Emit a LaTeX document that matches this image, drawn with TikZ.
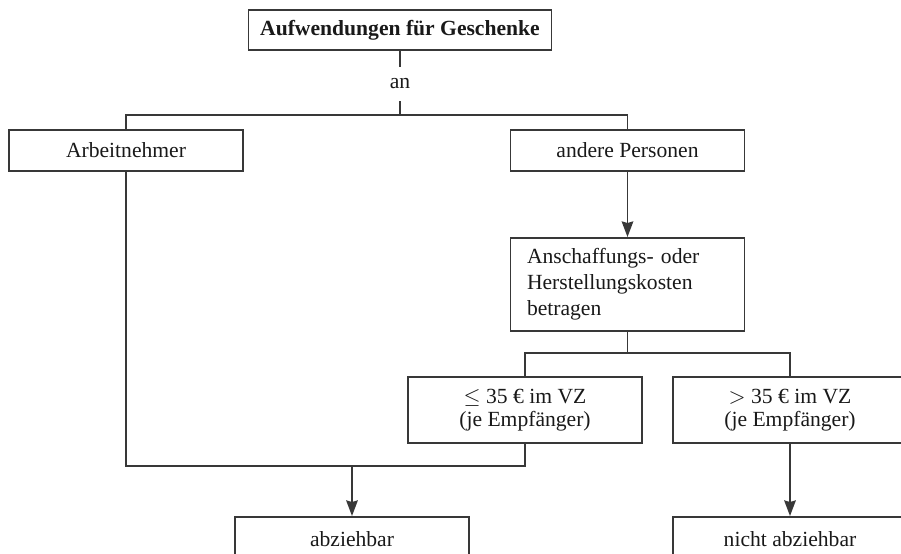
\documentclass[tikz,border=0pt]{standalone}
\usepackage{fontspec}
\setmainfont{Liberation Serif}
\usepackage{tikz}
\usetikzlibrary{arrows.meta, positioning}

\begin{document}
\begin{tikzpicture}[x=0.5pt, y=-0.5pt, thick, >={Stealth[length=7.8pt, width=5.8pt, inset=0.8pt]}]

		% Define block styles
		\tikzstyle{box} = [rectangle, draw=black!78, line width=0.85pt, text=black!90, minimum width=117pt, minimum height=20.5pt, text centered, font=\fontsize{10.8}{13}\selectfont]
		\tikzstyle{twoline} = [box, minimum height=33pt, align=center, font=\fontsize{10.8}{11.5}\selectfont]
		\tikzstyle{link} = [draw=black!78, line width=0.85pt]

		\useasboundingbox (0,0) rectangle (901,553);
		\clip (0,0) rectangle (901,553);

		% Nodes
		\node[box, minimum width=151.5pt, minimum height=20pt, font=\fontsize{10.8}{13}\selectfont\bfseries] (top) at (400,30) {Aufwendungen für Geschenke};
		\node[inner sep=5.5pt, text=black!90, font=\fontsize{10.8}{13}\selectfont] (an) at (400,84) {an};
		\coordinate (split1) at (400,115);
		\node[box] (arbeit) at (126,150.5) {Arbeitnehmer};
		\node[box] (andere) at (627.5,150.5) {andere Personen};
		\node[box, anchor=north, text width=100.5pt, inner xsep=8pt, inner ysep=5.3pt, align=left] (kosten) at (627.5,237) {Anschaffungs- oder\\Herstellungskosten\\betragen};
		\coordinate (split2) at (627.5,353);
		\node[twoline] (klein) at (525,410) {$\leq$ 35 € im VZ\\(je Empfänger)};
		\node[twoline] (gross) at (790,410) {$>$ 35 € im VZ\\(je Empfänger)};
		\coordinate (join) at (352,466);
		\node[box, anchor=north, minimum height=22pt] (abz) at (352,516) {abziehbar};
		\node[box, anchor=north, minimum height=22pt] (nabz) at (790,516) {nicht abziehbar};

		% Arrows
		\draw[link] (top) -- (an);
		\draw[link] (an) -- (split1);
		\draw[link] (arbeit.north) |- (split1) -| (andere.north);
		\draw[link, ->] (andere) -- (kosten);
		\draw[link] (kosten.south) -- (split2);
		\draw[link] (klein.north) |- (split2) -| (gross.north);
		\draw[link] (arbeit.south) |- (join) -| (klein.south);
		\draw[link, ->] (join) -- (abz);
		\draw[link, ->] (gross) -- (nabz);

	\end{tikzpicture}
\end{document}
